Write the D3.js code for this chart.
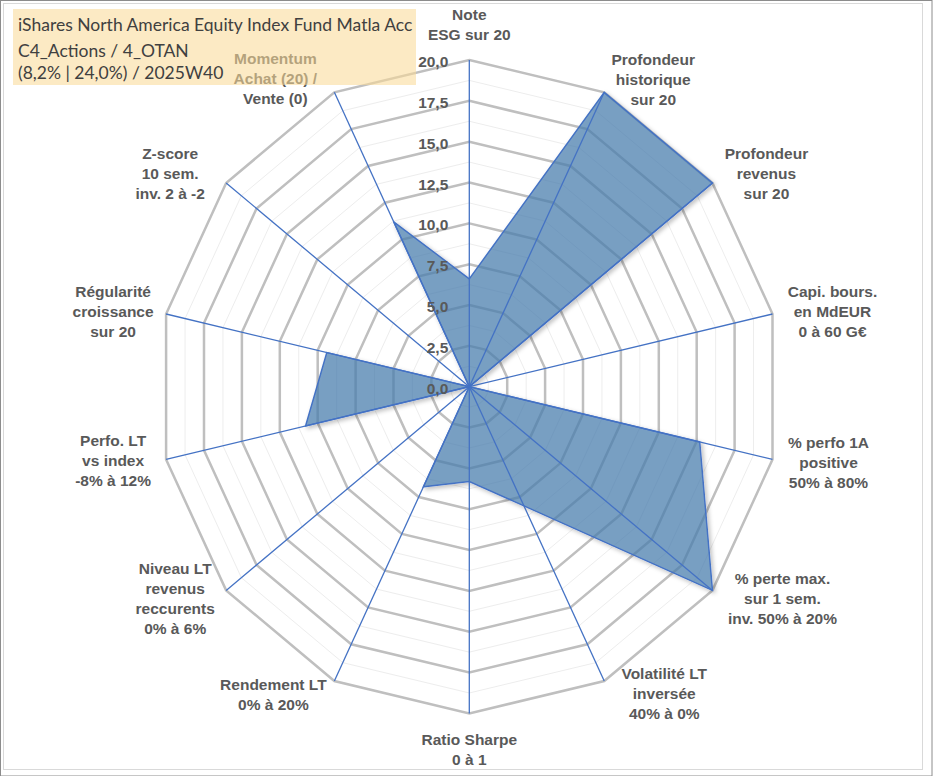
<!DOCTYPE html>
<html>
<head>
<meta charset="utf-8">
<script src="https://cdn.jsdelivr.net/npm/d3@7"></script>
<style>
  html, body { margin: 0; padding: 0; background: #fff; }
</style>
</head>
<body>
<div class="radar"></div>
<script>
const width = 933;
const height = 776;
const cx = 469.3;
const cy = 386.7;
const radiusX = 311;
const radiusY = 326.7;
const fontSize = 15.5;
const lineHeight = 20;

// axis labels, clockwise from the top
const axisLabels = [
  ['Note', 'ESG sur 20'],
  ['Profondeur', 'historique', 'sur 20'],
  ['Profondeur', 'revenus', 'sur 20'],
  ['Capi. bours.', 'en MdEUR', '0 à 60 G€'],
  ['% perfo 1A', 'positive', '50% à 80%'],
  ['% perte max.', 'sur 1 sem.', 'inv. 50% à 20%'],
  ['Volatilité LT', 'inversée', '40% à 0%'],
  ['Ratio Sharpe', '0 à 1'],
  ['Rendement LT', '0% à 20%'],
  ['Niveau LT', 'revenus', 'reccurents', '0% à 6%'],
  ['Perfo. LT', 'vs index', '-8% à 12%'],
  ['Régularité', 'croissance', 'sur 20'],
  ['Z-score', '10 sem.', 'inv. 2 à -2'],
  ['Momentum', 'Achat (20) /', 'Vente (0)'],
];

// scores
const values = [6.6, 20, 20, 0, 15.2, 20, 8.1, 5.8, 6.8, 0, 10.8, 9.4, 0, 11.2];

const tickValues = [0, 2.5, 5, 7.5, 10, 12.5, 15, 17.5, 20];
const minorTicks = [1.25, 3.75, 6.25, 8.75, 11.25, 13.75, 16.25, 18.75];

const titleLines = [
  'iShares North America Equity Index Fund Matla Acc',
  'C4_Actions / 4_OTAN',
  '(8,2% | 24,0%) / 2025W40',
];
const titleY = [24, 50, 72];

// label placement relative to the outer vertex (layout only)
const labelOffsets = [
  [0, -46], [49, -33], [54, -30], [60, -23], [56, -17], [70, -12], [60, -8],
  [0, 26], [-61, 3], [-51, -22], [-53, -19], [-53, -23], [-56, -30], [-59, -34],
];

const frFormat = d3.formatLocale({
  decimal: ',',
  thousands: ' ',
  grouping: [3],
  currency: ['', ' €'],
}).format('.1f');

const n = axisLabels.length;
const angle = d3.scaleLinear().domain([0, n]).range([0, 2 * Math.PI]);
const rx = d3.scaleLinear().domain([0, 20]).range([0, radiusX]);
const ry = d3.scaleLinear().domain([0, 20]).range([0, radiusY]);

const point = (i, v) => [
  cx + rx(v) * Math.sin(angle(i)),
  cy - ry(v) * Math.cos(angle(i)),
];

const svg = d3
  .select('.radar')
  .append('svg')
  .attr('width', width)
  .attr('height', height)
  .style('display', 'block');

// Outer shadow only (not visible through the translucent fill)
const filter = svg
  .append('defs')
  .append('filter')
  .attr('id', 'shadow')
  .attr('x', '-10%')
  .attr('y', '-10%')
  .attr('width', '120%')
  .attr('height', '120%');
filter
  .append('feGaussianBlur')
  .attr('in', 'SourceAlpha')
  .attr('stdDeviation', 2)
  .attr('result', 'blur');
filter
  .append('feOffset')
  .attr('in', 'blur')
  .attr('dx', 1.5)
  .attr('dy', 2)
  .attr('result', 'off');
filter
  .append('feComposite')
  .attr('in', 'off')
  .attr('in2', 'SourceAlpha')
  .attr('operator', 'out')
  .attr('result', 'outer');
filter
  .append('feFlood')
  .attr('flood-color', '#000')
  .attr('flood-opacity', 0.3)
  .attr('result', 'col');
filter
  .append('feComposite')
  .attr('in', 'col')
  .attr('in2', 'outer')
  .attr('operator', 'in')
  .attr('result', 'sh');
const merge = filter.append('feMerge');
merge.append('feMergeNode').attr('in', 'sh');
merge.append('feMergeNode').attr('in', 'SourceGraphic');

// Frame
svg
  .append('rect')
  .attr('x', 0.5)
  .attr('y', 0.5)
  .attr('width', width - 1.5)
  .attr('height', height - 0.5)
  .attr('fill', '#fff')
  .attr('stroke', '#8c8c8c');
svg
  .append('rect')
  .attr('x', 3.5)
  .attr('y', 3.5)
  .attr('width', 919)
  .attr('height', 766)
  .attr('fill', 'none')
  .attr('stroke', '#d9d9d9');

const ringPath = (v) =>
  d3.line()(d3.range(n).map((i) => point(i, v))) + 'Z';

// Minor rings
svg
  .append('g')
  .selectAll('path')
  .data(minorTicks)
  .enter()
  .append('path')
  .attr('d', ringPath)
  .attr('fill', 'none')
  .attr('stroke', '#ededed')
  .attr('stroke-width', 1);

// Major rings
svg
  .append('g')
  .selectAll('path')
  .data(tickValues.slice(1))
  .enter()
  .append('path')
  .attr('d', ringPath)
  .attr('fill', 'none')
  .attr('stroke', '#bfbfbf')
  .attr('stroke-width', 2.5)
  .attr('stroke-linejoin', 'miter');

// Series area
svg
  .append('path')
  .attr('d', d3.line()(values.map((v, i) => point(i, v))) + 'Z')
  .attr('fill', '#4a7eaf')
  .attr('fill-opacity', 0.72)
  .attr('stroke', '#4472c4')
  .attr('stroke-width', 1.5)
  .attr('stroke-linejoin', 'miter')
  .attr('filter', 'url(#shadow)');

// Spokes
svg
  .append('g')
  .selectAll('line')
  .data(d3.range(n))
  .enter()
  .append('line')
  .attr('x1', cx)
  .attr('y1', cy)
  .attr('x2', (i) => point(i, 20)[0])
  .attr('y2', (i) => point(i, 20)[1])
  .attr('stroke', '#4472c4')
  .attr('stroke-width', 1.3);

// Value axis labels
svg
  .append('g')
  .selectAll('text')
  .data(tickValues)
  .enter()
  .append('text')
  .attr('x', cx - 21)
  .attr('y', (v) => cy - ry(v) + 1.5)
  .attr('text-anchor', 'end')
  .attr('dominant-baseline', 'central')
  .attr('font-family', 'Liberation Sans, Arial, sans-serif')
  .attr('font-weight', 'bold')
  .attr('font-size', 15.5)
  .attr('fill', '#595959')
  .text((v) => frFormat(v));

// Category labels
const labels = svg
  .append('g')
  .selectAll('text')
  .data(axisLabels)
  .enter()
  .append('text')
  .attr('font-family', 'Liberation Sans, Arial, sans-serif')
  .attr('font-weight', 'bold')
  .attr('font-size', fontSize)
  .attr('fill', '#595959')
  .attr('text-anchor', 'middle')
  .attr('dominant-baseline', 'central');

labels.each(function (lines, i) {
  const [vx, vy] = point(i, 20);
  const x = vx + labelOffsets[i][0];
  const y = vy + labelOffsets[i][1];
  d3.select(this)
    .selectAll('tspan')
    .data(lines)
    .enter()
    .append('tspan')
    .attr('x', x)
    .attr('y', (d, k) => y + k * lineHeight)
    .text((d) => d);
});

// Title box (semi transparent, sits over the chart)
svg
  .append('rect')
  .attr('x', 13)
  .attr('y', 9)
  .attr('width', 403)
  .attr('height', 76)
  .attr('fill', '#fada97')
  .attr('fill-opacity', 0.57);

svg
  .append('g')
  .selectAll('text')
  .data(titleLines)
  .enter()
  .append('text')
  .attr('x', 18)
  .attr('y', (d, i) => titleY[i])
  .attr('dominant-baseline', 'central')
  .attr('font-family', 'Lato, Open Sans, sans-serif')
  .attr('font-size', 17.5)
  .attr('fill', '#404040')
  .text((d) => d);
</script>
</body>
</html>
